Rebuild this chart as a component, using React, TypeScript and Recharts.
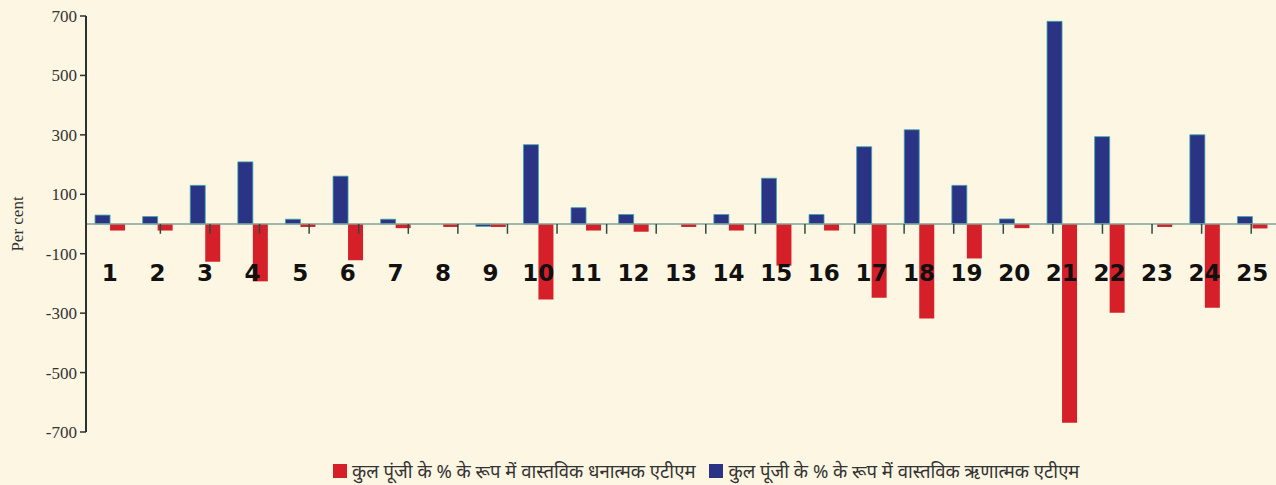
import React from 'react';
import { BarChart, Bar, XAxis, YAxis, ReferenceLine, Legend } from 'recharts';

const categories = ['1','2','3','4','5','6','7','8','9','10','11','12','13','14','15','16','17','18','19','20','21','22','23','24','25'];
const negativeAtm = [30, 25, 130, 209, 16, 161, 16, 0, -8, 267, 55, 32, 0, 32, 154, 32, 260, 317, 130, 17, 682, 294, 0, 300, 25];
const positiveAtm = [-22, -22, -127, -193, -10, -122, -14, -10, -10, -254, -22, -26, -10, -22, -140, -22, -248, -318, -116, -14, -669, -299, -10, -282, -15];
const yTicks = [-700, -500, -300, -100, 100, 300, 500, 700];
const positiveLabel = 'कुल पूंजी के % के रूप में वास्तविक धनात्मक एटीएम';
const negativeLabel = 'कुल पूंजी के % के रूप में वास्तविक ऋणात्मक एटीएम';
const boundaries = categories.slice(0, -1).map((_, i) => i + 1.5);

const data = categories.map((c, i) => ({ name: c, neg: negativeAtm[i], pos: positiveAtm[i] }));

const BG = '#fdf6e2';
const BLUE = '#2b3384';
const RED = '#d52029';

const CategoryTick = (props: any) => (
  <text x={props.x} y={props.y} dy={-151} textAnchor="middle" fontFamily="DejaVu Sans" fontWeight="bold" fontSize={23} fill="#111">
    {props.payload.value}
  </text>
);

const YLabel = (props: any) => {
  const vb = props.viewBox;
  const x = vb.x + 17;
  const y = vb.y + vb.height / 2;
  return (
    <text x={x} y={y} transform={`rotate(-90, ${x}, ${y})`} textAnchor="middle" dominantBaseline="central" fontFamily="Liberation Serif" fontSize={17} fill="#333">
      Per cent
    </text>
  );
};

const LegendContent = (props: any) => {
  const items = [...(props.payload || [])].reverse();
  return (
    <div style={{ display: 'flex', alignItems: 'center', fontFamily: '"Noto Sans", sans-serif', fontSize: 18.5, color: '#333', whiteSpace: 'nowrap' }}>
      {items.map((it: any, i: number) => (
        <div key={i} style={{ display: 'flex', alignItems: 'center', marginRight: 14 }}>
          <span style={{ display: 'inline-block', width: 14, height: 14, background: it.color, marginRight: 5 }} />
          <span>{it.value}</span>
        </div>
      ))}
    </div>
  );
};

export default function App() {
  return (
    <div style={{ position: 'fixed', left: 0, top: 0, width: 1276, height: 485, background: BG }}>
      <BarChart width={1276} height={485} data={data} margin={{ top: 16, right: 0, bottom: 28, left: 0 }} barCategoryGap="19%" barGap={0}>
        <XAxis dataKey="name" axisLine={false} tickLine={false} tickSize={0} tickMargin={0} height={1} interval={0} tick={<CategoryTick />} />
        <XAxis xAxisId="num" type="number" domain={[0.5, 25.5]} hide />
        <YAxis
          width={86}
          domain={[-700, 700]}
          ticks={yTicks}
          interval={0}
          axisLine={{ stroke: '#2b3030', strokeWidth: 2 }}
          tickLine={{ stroke: '#2b3030', strokeWidth: 1.5 }}
          tickSize={6}
          tickMargin={3}
          tick={{ fontFamily: 'Liberation Serif', fontSize: 17, fill: '#333' }}
          label={<YLabel />}
        />
        <ReferenceLine y={0} stroke="#7fa39a" strokeWidth={1.5} />
        {boundaries.map((b) => (
          <ReferenceLine key={b} xAxisId="num" segment={[{ x: b, y: 0 }, { x: b, y: -33 }]} stroke="#2f4a44" strokeWidth={1.5} />
        ))}
        <Bar dataKey="neg" name={negativeLabel} fill={BLUE} stroke="#3aa6ae" strokeWidth={0.8} isAnimationActive={false} />
        <Bar dataKey="pos" name={positiveLabel} fill={RED} isAnimationActive={false} />
        <Legend verticalAlign="bottom" height={24} content={<LegendContent />} wrapperStyle={{ left: 333, top: 458, width: 'auto' }} />
      </BarChart>
    </div>
  );
}
